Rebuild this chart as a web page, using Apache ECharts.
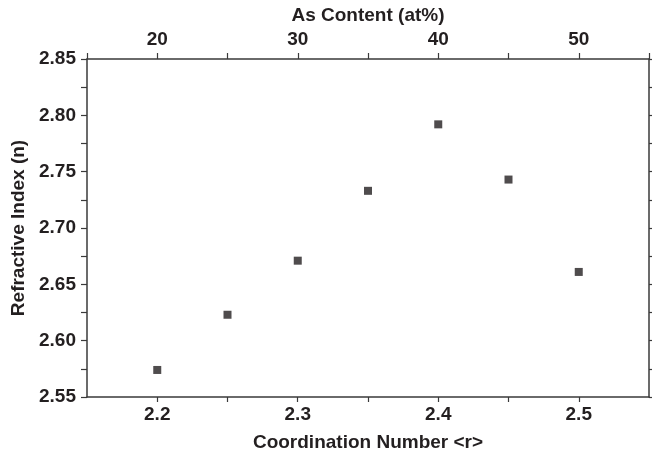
<!DOCTYPE html>
<html>
<head>
<meta charset="utf-8">
<style>
  html, body { margin: 0; padding: 0; background: #fff; }
  #chart { width: 652px; height: 457px; }
</style>
<script src="https://cdn.jsdelivr.net/npm/echarts@6/dist/echarts.min.js"></script>
</head>
<body>
<div id="chart"></div>
<script>
// 数据：配位数 <r> 与折射率 n
const coordNumbers = [2.2, 2.25, 2.3, 2.35, 2.4, 2.45, 2.5];
const refractiveIdx = [2.574, 2.623, 2.671, 2.733, 2.792, 2.743, 2.661];

const fontFamily = 'Liberation Sans, Arial, sans-serif';
const ink = '#231f20';
const lineColor = '#3a3a3a';

const chart = echarts.init(document.getElementById('chart'));

const baseLabel = { color: ink, fontFamily, fontWeight: 'bold', fontSize: 19 };
const nameStyle = { color: ink, fontFamily, fontWeight: 'bold', fontSize: 19 };
const axisLine = { show: true, onZero: false, lineStyle: { color: lineColor, width: 1.5 } };
const tick = len => ({ show: true, inside: false, length: len, lineStyle: { color: lineColor, width: 1.2 } });

function isMultiple(v, step) {
  return Math.abs(Math.round(v / step) * step - v) < 1e-6;
}

chart.setOption({
  animation: false,
  grid: { left: 87, right: 2, top: 59, bottom: 60 },
  xAxis: [
    {
      type: 'value',
      position: 'bottom',
      min: 2.15,
      max: 2.55,
      interval: 0.05,
      name: 'Coordination Number <r>',
      nameLocation: 'middle',
      nameGap: 36,
      nameTextStyle: nameStyle,
      axisLine,
      axisTick: tick(5),
      axisLabel: {
        ...baseLabel,
        margin: 8,
        showMinLabel: false,
        showMaxLabel: false,
        formatter: v => (isMultiple(v, 0.1) ? v.toFixed(1) : '')
      },
      splitLine: { show: false }
    },
    {
      type: 'value',
      position: 'top',
      min: 15,
      max: 55,
      interval: 5,
      name: 'As Content (at%)',
      nameLocation: 'middle',
      nameGap: 30,
      nameTextStyle: nameStyle,
      axisLine,
      axisTick: tick(6),
      axisLabel: {
        ...baseLabel,
        margin: 10,
        formatter: v => (v % 10 === 0 ? String(v) : '')
      },
      splitLine: { show: false }
    }
  ],
  yAxis: [
    {
      type: 'value',
      position: 'left',
      min: 2.55,
      max: 2.85,
      interval: 0.025,
      name: 'Refractive Index (n)',
      nameLocation: 'middle',
      nameGap: 55,
      nameTextStyle: nameStyle,
      axisLine,
      axisTick: tick(6),
      axisLabel: {
        ...baseLabel,
        margin: 11,
        formatter: v => (isMultiple(v, 0.05) ? v.toFixed(2) : '')
      },
      splitLine: { show: false }
    },
    {
      type: 'value',
      position: 'right',
      min: 2.55,
      max: 2.85,
      interval: 0.025,
      axisLine,
      axisTick: tick(4),
      axisLabel: { show: false },
      splitLine: { show: false }
    }
  ],
  series: [
    {
      type: 'scatter',
      xAxisIndex: 0,
      yAxisIndex: 0,
      symbol: 'rect',
      symbolSize: 8,
      itemStyle: { color: ink },
      data: coordNumbers.map((x, i) => [x, refractiveIdx[i]])
    }
  ]
});
</script>
</body>
</html>
